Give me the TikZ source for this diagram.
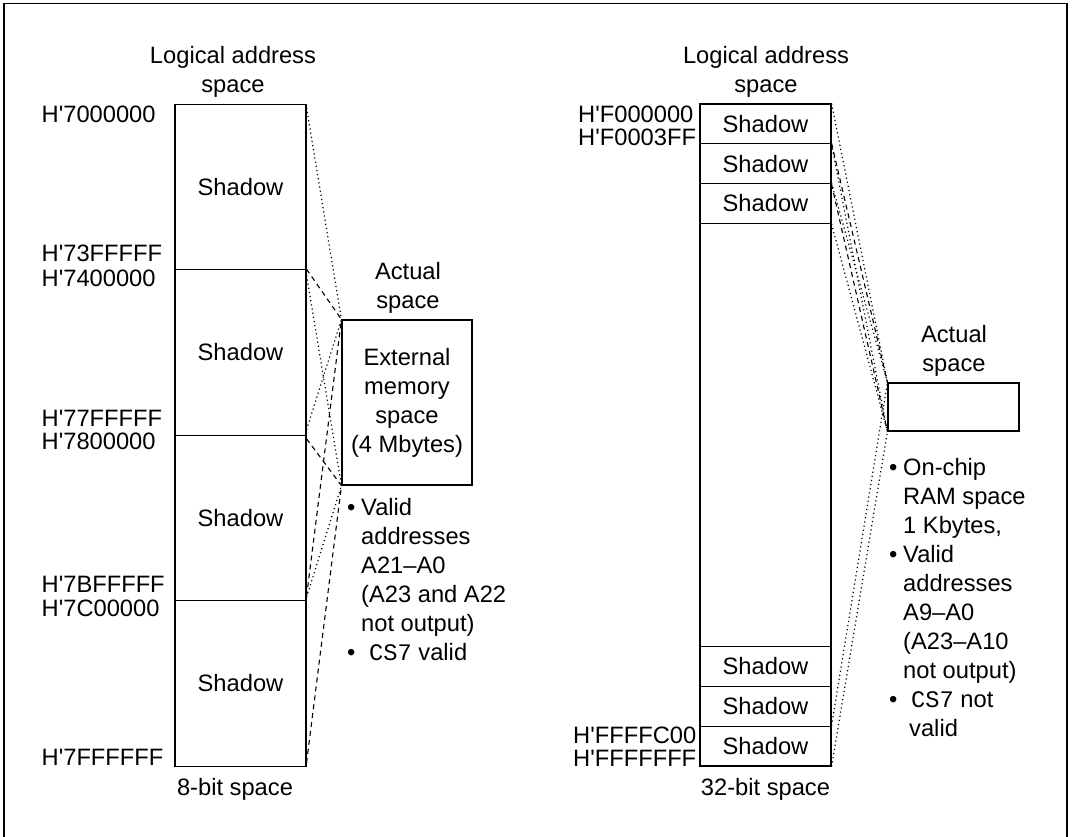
\documentclass[tikz,border=0pt]{standalone}
\usepackage{fontspec}
\setmainfont{Liberation Sans}
\newfontfamily\addrmono{Liberation Mono}
\usetikzlibrary{positioning}
\definecolor{MMInk}{HTML}{000000}
\newcommand\mmfont{\fontsize{23.7}{29}\selectfont}
\tikzset{
  frame/.style={draw=MMInk,line width=1.1pt},
  area/.style={draw=MMInk,line width=1.1pt,minimum width=131pt,inner sep=0pt,
               text=MMInk,font=\mmfont},
  addr/.style={anchor=base west,inner sep=0pt,text=MMInk,font=\mmfont},
  title/.style={align=center,inner sep=0pt,text=MMInk,font=\mmfont},
  note/.style={anchor=north west,align=left,inner sep=0pt,text=MMInk,font=\mmfont},
  dotmap/.style={MMInk,line width=1.2pt,dash pattern=on 1.2pt off 3pt},
  dashmap/.style={MMInk,line width=1.1pt,dash pattern=on 5pt off 4pt},
}

\begin{document}
\begin{tikzpicture}[x=1pt,y=-1pt]
  \useasboundingbox (0,0) rectangle (1073,836);
  \draw[frame] (4,845) |- (1067,3.5) -- (1067,845);

  \node[title] (ltitle) at (233,72) {Logical address\\space};
  \foreach \n/\y in {A/187,B/352.5,C/518,D/683.5}{
    \node[area,minimum height=165.5pt] (ls\n) at (240.5,\y) {Shadow};
  }
  \foreach \t/\y in {7000000/122,73FFFFF/261.7,7400000/286,77FFFFF/426,
                     7800000/449.5,7BFFFFF/592,7C00000/616,7FFFFFF/765}{
    \node[addr] (la\t) at (41.5,\y) {H\textquotesingle\t};
  }
  \node[title,anchor=base] (lfoot) at (235,795) {8-bit space};

  \node[area,minimum width=130pt,minimum height=165pt,align=center] (lact) at (407,402.5)
    {External\\memory\\space\\(4 Mbytes)};
  \node[title] (lacttitle) at (408,288) {Actual\\space};
  \node[note] (lnote) at (347,498)
    {\makebox[14pt][l]{\textbullet}Valid\\
     \hspace*{14pt}addresses\\
     \hspace*{14pt}A21--A0\\
     \hspace*{14pt}(A23 and A22\\
     \hspace*{14pt}not output)\\
     \makebox[22pt][l]{\textbullet}{\addrmono CS7} valid};
  \foreach \n/\s/\a/\b in {A/dotmap/-4/-5,B/dashmap/0/-3,C/dotmap/5/4,D/dashmap/4/4}{
    \draw[\s] ([yshift=\a pt]ls\n.north east) -- (lact.north west);
    \draw[\s] ([yshift=\b pt]ls\n.south east) -- (lact.south west);
  }

  \node[title] (rtitle) at (766,72) {Logical address\\space};
  \node[area,minimum height=662pt] (rbox) at (765.5,435) {};
  \foreach \n/\y in {1/123.9,2/163.7,3/203.5,4/666.5,5/706.3,6/746.1}{
    \node[area,minimum height=39.8pt] (rs\n) at (765.5,\y) {Shadow};
  }
  \node[addr] (raF000000) at (578,122.5) {H\textquotesingle F000000};
  \node[addr] (raF0003FF) at (578,145) {H\textquotesingle F0003FF};
  \node[addr] (raFFFFC00) at (573,743) {H\textquotesingle FFFFC00};
  \node[addr] (raFFFFFFF) at (573,766.5) {H\textquotesingle FFFFFFF};
  \node[title,anchor=base] (rfoot) at (765.5,795) {32-bit space};

  \node[area,minimum height=48pt] (ract) at (953.5,407) {};
  \node[title] (racttitle) at (954,351) {Actual\\space};
  \node[note] (rnote) at (889,458)
    {\makebox[14pt][l]{\textbullet}On-chip\\
     \hspace*{14pt}RAM space\\
     \hspace*{14pt}1 Kbytes,\\
     \makebox[14pt][l]{\textbullet}Valid\\
     \hspace*{14pt}addresses\\
     \hspace*{14pt}A9--A0\\
     \hspace*{14pt}(A23--A10\\
     \hspace*{14pt}not output)\\
     \makebox[22pt][l]{\textbullet}{\addrmono CS7} not\\
     \hspace*{20pt}valid};
  \foreach \n/\s in {1/dotmap,2/dashmap,3/dotmap,6/dotmap}{
    \draw[\s] (rs\n.north east) -- (ract.north west);
    \draw[\s] (rs\n.south east) -- (ract.south west);
  }
\end{tikzpicture}
\end{document}
